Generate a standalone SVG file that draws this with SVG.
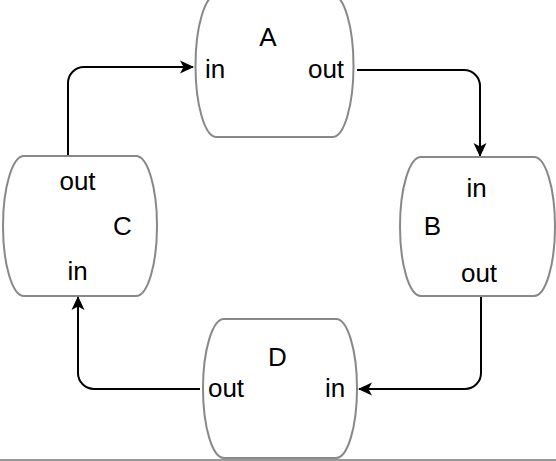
<svg xmlns="http://www.w3.org/2000/svg" width="556" height="461" viewBox="0 0 556 461">
  <style>
    .node { fill: #ffffff; stroke: #888888; stroke-width: 2; }
    .lbl { font-family: "Liberation Sans", Helvetica, Arial, sans-serif; font-size: 26px; fill: #000000; text-anchor: middle; }
    .edge { fill: none; stroke: #000000; stroke-width: 2; }
  </style>
  <defs>
    <marker id="arrow" markerUnits="userSpaceOnUse" markerWidth="16" markerHeight="16" refX="14" refY="8" orient="auto">
      <path d="M1,1.5 L15,8 L1,14.5 L4.5,8 Z" fill="#000000"/>
    </marker>
  </defs>
  <rect x="0" y="0" width="556" height="461" fill="#ffffff"/>
  <line x1="0" y1="460" x2="556" y2="460" stroke="#999999" stroke-width="2"/>

  <g id="connectors">
    <path class="edge" d="M68,156 V83 A16,16 0 0 1 84,67 H193" marker-end="url(#arrow)"/>
    <path class="edge" d="M357,70 H464 A16,16 0 0 1 480,86 V156" marker-end="url(#arrow)"/>
    <path class="edge" d="M481,297 V373 A16,16 0 0 1 465,389 H359" marker-end="url(#arrow)"/>
    <path class="edge" d="M200,389 H94 A16,16 0 0 1 78,373 V297" marker-end="url(#arrow)"/>
  </g>

  <g id="node-A">
    <rect class="node" x="195.5" y="-5" width="158" height="142" rx="21" ry="71"/>
    <text class="lbl" x="268" y="46">A</text>
    <text class="lbl" x="215" y="78">in</text>
    <text class="lbl" x="326" y="78">out</text>
  </g>

  <g id="node-B">
    <rect class="node" x="400" y="157" width="155" height="139" rx="21" ry="69.5"/>
    <text class="lbl" x="476.5" y="197">in</text>
    <text class="lbl" x="432.5" y="235">B</text>
    <text class="lbl" x="479" y="282">out</text>
  </g>

  <g id="node-C">
    <rect class="node" x="3" y="156" width="154" height="140" rx="21" ry="70"/>
    <text class="lbl" x="77.5" y="190">out</text>
    <text class="lbl" x="122.5" y="235">C</text>
    <text class="lbl" x="77.5" y="280">in</text>
  </g>

  <g id="node-D">
    <rect class="node" x="203" y="319" width="154" height="139" rx="21" ry="69.5"/>
    <text class="lbl" x="277.5" y="366">D</text>
    <text class="lbl" x="226" y="397">out</text>
    <text class="lbl" x="335" y="397">in</text>
  </g>
</svg>
